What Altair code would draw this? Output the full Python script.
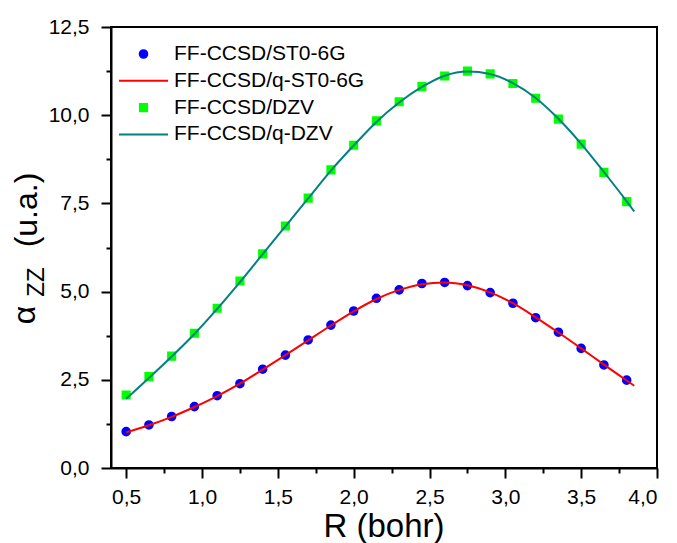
import altair as alt
import pandas as pd

FONT = "Liberation Sans"

# ---- data ----
R = [0.5, 0.65, 0.8, 0.95, 1.1, 1.25, 1.4, 1.55, 1.7, 1.85, 2.0, 2.15,
     2.3, 2.45, 2.6, 2.75, 2.9, 3.05, 3.2, 3.35, 3.5, 3.65, 3.8]
sto_pts = [1.03, 1.22, 1.46, 1.74, 2.05, 2.39, 2.80, 3.20, 3.63, 4.05, 4.45, 4.81,
           5.05, 5.23, 5.26, 5.17, 4.97, 4.67, 4.26, 3.85, 3.39, 2.92, 2.49]
dzv_pts = [2.07, 2.59, 3.17, 3.82, 4.53, 5.30, 6.07, 6.86, 7.65, 8.45, 9.15, 9.84,
           10.38, 10.81, 11.11, 11.25, 11.17, 10.90, 10.48, 9.89, 9.18, 8.38, 7.55]

R_fit = [0.5, 0.65, 0.8, 0.95, 1.1, 1.25, 1.4, 1.55, 1.7, 1.85, 2.0, 2.15,
         2.3, 2.45, 2.6, 2.75, 2.9, 3.05, 3.2, 3.35, 3.5, 3.65, 3.8, 3.85]
sto_fit = [1.01, 1.21, 1.45, 1.73, 2.04, 2.39, 2.79, 3.20, 3.62, 4.04, 4.44, 4.79,
           5.05, 5.21, 5.26, 5.18, 4.98, 4.67, 4.27, 3.84, 3.39, 2.93, 2.48, 2.33]
dzv_fit = [1.96, 2.55, 3.16, 3.80, 4.51, 5.27, 6.06, 6.85, 7.64, 8.43, 9.14, 9.81,
           10.36, 10.80, 11.12, 11.24, 11.17, 10.91, 10.49, 9.90, 9.19, 8.39, 7.56, 7.27]

series_names = ["FF-CCSD/ST0-6G", "FF-CCSD/q-ST0-6G", "FF-CCSD/DZV", "FF-CCSD/q-DZV"]
series_colors = ["#0000FF", "#FF0000", "#00FF00", "#008080"]

x_major = [0.5, 1.0, 1.5, 2.0, 2.5, 3.0, 3.5, 4.0]
x_minor = [0.75, 1.25, 1.75, 2.25, 2.75, 3.25, 3.75]
y_major = [0.0, 2.5, 5.0, 7.5, 10.0, 12.5]
y_minor = [1.25, 3.75, 6.25, 8.75, 11.25]

# symbol shapes (custom paths scaled by the symbol size)
circle = "M-0.31,0A0.31,0.31,0,1,0,0.31,0A0.31,0.31,0,1,0,-0.31,0Z"
square = "M-0.29,-0.29L0.29,-0.29L0.29,0.29L-0.29,0.29Z"
hline = "M-2,0L2,0"
series_shapes = [circle, hline, square, hline]

pts_df = pd.DataFrame({
    "R": R + R,
    "value": sto_pts + dzv_pts,
    "series": [series_names[0]] * len(R) + [series_names[2]] * len(R),
})
fit_df = pd.DataFrame({
    "R": R_fit + R_fit,
    "value": sto_fit + dzv_fit,
    "series": [series_names[1]] * len(R_fit) + [series_names[3]] * len(R_fit),
})

xs = alt.Scale(domain=[0.4, 4.0], nice=False, zero=False)
ys = alt.Scale(domain=[0, 12.5], nice=False, zero=False)
col_scale = alt.Scale(domain=series_names, range=series_colors)
shape_scale = alt.Scale(domain=series_names, range=series_shapes)

label_expr = "replace(format(datum.value, '.1f'), '.', ',')"

legend = alt.Legend(
    orient="none", legendX=19, legendY=13.5, title=None, padding=0,
    labelFont=FONT, labelFontSize=21, labelColor="black", labelLimit=400,
    labelOffset=17, rowPadding=2.8, symbolSize=600, symbolStrokeWidth=2,
    symbolFillColor="white",
)

points = alt.Chart(pts_df).mark_point(
    filled=True, size=600, strokeWidth=2, opacity=1
).encode(
    x=alt.X("R:Q", scale=xs, axis=alt.Axis(
        values=x_major, tickSize=10, labelPadding=8, labelExpr=label_expr,
        title=None, orient="bottom")),
    y=alt.Y("value:Q", scale=ys, axis=alt.Axis(
        values=y_major, tickSize=10, labelPadding=12, labelExpr=label_expr,
        title=None, orient="left")),
    fill=alt.Fill("series:N", scale=col_scale, legend=legend),
    stroke=alt.Stroke("series:N", scale=col_scale, legend=legend),
    shape=alt.Shape("series:N", scale=shape_scale, legend=legend),
)

lines = alt.Chart(fit_df).mark_line(strokeWidth=2, interpolate="monotone").encode(
    x=alt.X("R:Q", scale=xs, axis=alt.Axis(
        values=x_minor, tickSize=5, labels=False, domain=False,
        title=None, orient="bottom")),
    y=alt.Y("value:Q", scale=ys, axis=alt.Axis(
        values=y_minor, tickSize=5, labels=False, domain=False,
        title=None, orient="left")),
    stroke=alt.Stroke("series:N", scale=col_scale, legend=None),
)

def txt(s, size, x, y, angle=0):
    return alt.Chart(pd.DataFrame({"t": [s]})).mark_text(
        font=FONT, fontSize=size, color="black", angle=angle,
        align="center", baseline="alphabetic"
    ).encode(text="t:N", x=alt.value(x), y=alt.value(y))

x_title = txt("R (bohr)", 33, 273, 510)
y_alpha = txt("α", 32, -76, 288, 270)
y_sub = txt("ZZ", 24, -67, 255, 270)
y_unit = txt("(u.a.)", 32, -74, 183, 270)

chart = alt.layer(points, lines, x_title, y_alpha, y_sub, y_unit).resolve_axis(
    x="independent", y="independent"
).properties(
    width=546, height=441,
    autosize=alt.AutoSizeParams(type="none"),
    padding={"left": 111, "top": 27, "right": 20, "bottom": 75},
).configure_view(
    stroke="black", strokeWidth=2
).configure_axis(
    grid=False, domainColor="black", domainWidth=2, tickColor="black",
    tickWidth=2, labelFont=FONT, labelFontSize=21, labelColor="black",
)

chart.save("out.html", embed_options={"renderer": "svg", "actions": False})
